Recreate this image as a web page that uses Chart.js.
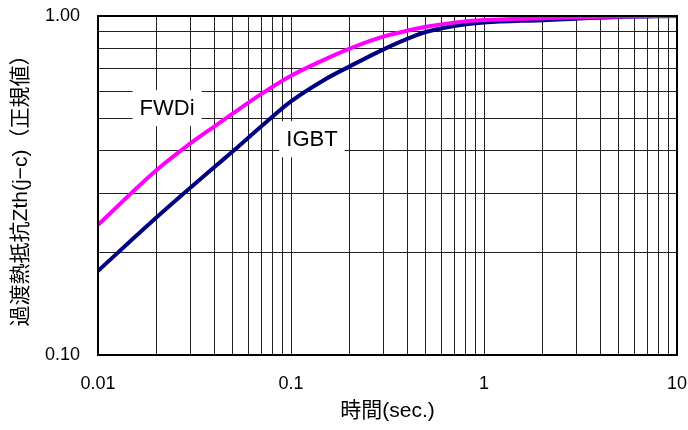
<!DOCTYPE html>
<html>
<head>
<meta charset="utf-8">
<script src="https://cdn.jsdelivr.net/npm/chart.js@4/dist/chart.umd.min.js"></script>
<style>
  html, body { margin: 0; padding: 0; background: #fff; }
  canvas { display: block; }
</style>
</head>
<body>
<canvas id="zthChart" width="688" height="430"></canvas>
<script>
// Transient thermal impedance (normalised) vs time, log-log

const timeSec = [0.01, 0.02, 0.03, 0.04, 0.05, 0.07, 0.1, 0.15, 0.2, 0.3, 0.4, 0.5, 0.7, 1, 2, 3, 5, 10];
const fwdiZth = [0.242, 0.350, 0.420, 0.472, 0.516, 0.588, 0.666, 0.745, 0.800, 0.869, 0.905, 0.930, 0.956, 0.973, 0.985, 0.991, 0.997, 1.0];
const igbtZth = [0.177, 0.254, 0.311, 0.358, 0.399, 0.472, 0.560, 0.650, 0.709, 0.796, 0.856, 0.897, 0.934, 0.956, 0.972, 0.982, 0.994, 1.0];

// labelled ticks
const xTickValues = [0.01, 0.1, 1, 10];
const xTickLabels = ['0.01', '0.1', '1', '10'];
const yTickValues = [0.1, 1];
const yTickLabels = ['0.10', '1.00'];

// series names written on the plot, anchored in data coordinates
const seriesNames = ['FWDi', 'IGBT'];
const nameAtTime = [0.0228, 0.1285];
const nameAtZth = [0.535, 0.433];

const FONT = "'Liberation Sans', Arial, 'Noto Sans CJK JP', sans-serif";

// every 1..9 x 10^n between the limits, used for the grid
function logGrid(min, max) {
    const out = [];
    for (let e = Math.round(Math.log10(min)); e < Math.round(Math.log10(max)); e++) {
        for (let m = 1; m <= 9; m++) {
            out.push(parseFloat((m * Math.pow(10, e)).toPrecision(6)));
        }
    }
    out.push(max);
    return out;
}

function labelFor(value, values, labels) {
    const i = values.findIndex(v => Math.abs(Math.log10(v) - Math.log10(value)) < 1e-6);
    return i >= 0 ? labels[i] : '';
}

const nameBoxes = {
    id: 'nameBoxes',
    beforeDatasetsDraw(chart) {
        const { ctx, scales: { x, y } } = chart;
        ctx.save();
        ctx.font = '22px ' + FONT;
        ctx.textAlign = 'center';
        ctx.textBaseline = 'middle';
        seriesNames.forEach((name, i) => {
            const px = x.getPixelForValue(nameAtTime[i]);
            const py = y.getPixelForValue(nameAtZth[i]);
            const w = ctx.measureText(name).width + 14;
            ctx.fillStyle = '#fff';
            ctx.fillRect(px - w / 2, py - 18, w, 36);
            ctx.fillStyle = '#000';
            ctx.fillText(name, px, py + 1);
        });
        ctx.restore();
    },
    afterDraw(chart) {
        const { ctx, chartArea: a } = chart;
        ctx.save();
        ctx.strokeStyle = '#000';
        ctx.lineWidth = 2;
        ctx.strokeRect(a.left, a.top, a.right - a.left, a.bottom - a.top);
        ctx.restore();
    }
};

new Chart(document.getElementById('zthChart'), {
    type: 'line',
    data: {
        datasets: [
            {
                label: 'FWDi',
                data: timeSec.map((t, i) => ({ x: t, y: fwdiZth[i] })),
                borderColor: '#ff00ff',
                borderWidth: 4,
                pointRadius: 0,
                cubicInterpolationMode: 'monotone',
                fill: false
            },
            {
                label: 'IGBT',
                data: timeSec.map((t, i) => ({ x: t, y: igbtZth[i] })),
                borderColor: '#000080',
                borderWidth: 4,
                pointRadius: 0,
                cubicInterpolationMode: 'monotone',
                fill: false
            }
        ]
    },
    options: {
        responsive: false,
        animation: false,
        layout: { padding: { top: 16, right: 11, left: 0, bottom: 0 } },
        plugins: {
            legend: { display: false },
            tooltip: { enabled: false }
        },
        scales: {
            x: {
                type: 'logarithmic',
                min: 0.01,
                max: 10,
                afterBuildTicks: s => { s.ticks = logGrid(0.01, 10).map(v => ({ value: v })); },
                afterFit: s => {
                    s.height = 75;
                    s.paddingLeft = 0;
                    s.paddingRight = 0;
                },
                grid: { color: '#222', lineWidth: 1, drawTicks: false },
                border: { display: false },
                ticks: {
                    autoSkip: false,
                    maxRotation: 0,
                    padding: 18,
                    color: '#000',
                    font: { size: 18, family: FONT },
                    callback: v => labelFor(v, xTickValues, xTickLabels)
                },
                title: {
                    display: true,
                    text: '時間(sec.)',
                    color: '#000',
                    font: { size: 21, family: FONT },
                    padding: { top: 0, bottom: 6 }
                }
            },
            y: {
                type: 'logarithmic',
                min: 0.1,
                max: 1,
                afterBuildTicks: s => { s.ticks = logGrid(0.1, 1).map(v => ({ value: v })); },
                afterFit: s => {
                    s.width = 98;
                    s.paddingTop = 0;
                    s.paddingBottom = 0;
                },
                grid: { color: '#222', lineWidth: 1, drawTicks: false },
                border: { display: false },
                ticks: {
                    autoSkip: false,
                    padding: 18,
                    color: '#000',
                    font: { size: 18, family: FONT },
                    callback: v => labelFor(v, yTickValues, yTickLabels)
                },
                title: {
                    display: true,
                    text: '過渡熱抵抗Zth(j−c)（正規値）',
                    color: '#000',
                    font: { size: 21, family: FONT },
                    padding: { top: 9, bottom: 0 }
                }
            }
        }
    },
    plugins: [nameBoxes]
});
</script>
</body>
</html>
